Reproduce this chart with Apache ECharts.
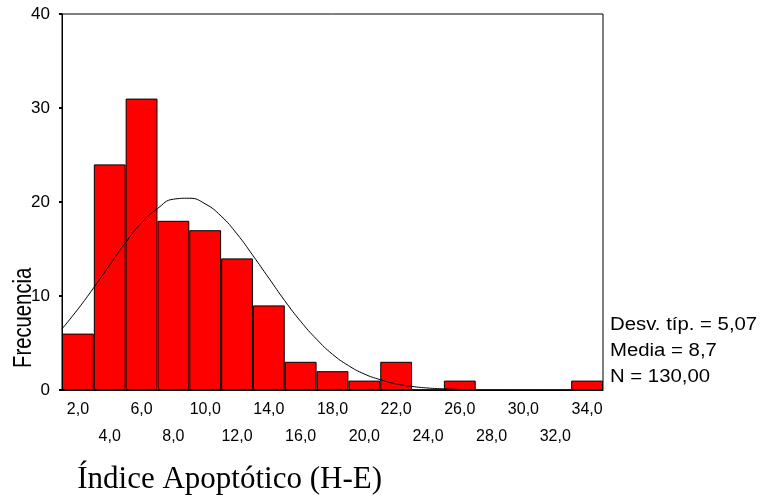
<!DOCTYPE html>
<html><head><meta charset="utf-8">
<script src="https://cdn.jsdelivr.net/npm/echarts@6/dist/echarts.min.js"></script>
<style>html,body{margin:0;padding:0;background:#fff}#c{width:760px;height:502px}</style>
</head><body><div id="c"></div>
<script>
// Histogram bins (centers) and frequencies
var binLabels = ['2,0','4,0','6,0','8,0','10,0','12,0','14,0','16,0','18,0','20,0','22,0','24,0','26,0','28,0','30,0','32,0','34,0'];
var frequencies = [6,24,31,18,17,14,9,3,2,1,3,0,1,0,0,0,1];
// Fitted normal curve
var curveX = [1,2,3,4,5,6,7,8,9,10,11,12,13,14,15,16,17,18,19,20,21,22,23,24,25,26];
var curveY = [6.5,8.6,10.9,13.3,15.7,17.8,19.3,20.3,20.4,19.8,18.5,16.6,14.3,11.9,9.5,7.3,5.4,3.8,2.6,1.7,1.1,0.65,0.38,0.21,0.12,0.06];
var yTicks = [0,10,20,30,40];
var statsText = ['Desv. típ. = 5,07','Media = 8,7','N = 130,00'];
var yName = 'Frecuencia';
var xName = 'Índice Apoptótico (H-E)';

var chart = echarts.init(document.getElementById('c'), null, {renderer:'canvas'});
var font = 'Liberation Sans, Arial, sans-serif';
chart.setOption({
  animation:false,
  backgroundColor:'#fff',
  grid:{left:62, right:157, top:14, bottom:112, show:true, borderColor:'#000', borderWidth:1, backgroundColor:'transparent'},
  xAxis:[{
    type:'category', data:binLabels, boundaryGap:true,
    axisLine:{lineStyle:{color:'#000', width:1}},
    axisTick:{alignWithLabel:true, length:3, lineStyle:{color:'#000', width:1.5}},
    axisLabel:{interval:0, color:'#000', fontFamily:font, fontSize:16, lineHeight:27, margin:6,
      formatter:function(v,i){return i%2===0 ? v : '\n'+v;}},
    splitLine:{show:false}
  },{
    type:'value', min:1, max:35, show:false
  }],
  yAxis:{
    type:'value', min:0, max:40, interval:10,
    axisLine:{show:true, lineStyle:{color:'#000', width:1}},
    axisTick:{show:true, length:3, lineStyle:{color:'#000', width:2}},
    axisLabel:{color:'#000', fontFamily:font, fontSize:17, margin:12,
      formatter:function(v){return yTicks.indexOf(v)>=0 ? String(v) : '';}},
    splitLine:{show:false}
  },
  series:[{
    type:'bar', xAxisIndex:0, data:frequencies, barCategoryGap:'0%',
    itemStyle:{color:'#ff0000', borderColor:'#000', borderWidth:1}
  },{
    type:'line', xAxisIndex:1, data:curveX.map(function(x,i){return [x,curveY[i]];}),
    showSymbol:false, smooth:true, lineStyle:{color:'#000', width:1}
  }],
  graphic:[
    {type:'text', x:610, y:325, scaleX:1.13, style:{text:statsText[0], font:'18px '+font, fill:'#000', textVerticalAlign:'middle'}},
    {type:'text', x:610, y:351, scaleX:1.13, style:{text:statsText[1], font:'18px '+font, fill:'#000', textVerticalAlign:'middle'}},
    {type:'text', x:610, y:377, scaleX:1.13, style:{text:statsText[2], font:'18px '+font, fill:'#000', textVerticalAlign:'middle'}},
    {type:'text', x:24, y:368, rotation:Math.PI/2, scaleX:0.78, style:{text:yName, font:'26px '+font, fill:'#000', textVerticalAlign:'middle'}},
    {type:'text', x:382, y:480, style:{text:xName, font:'31px Liberation Serif, Times New Roman, serif', fill:'#000', textAlign:'right', textVerticalAlign:'middle'}}
  ]
});
</script></body></html>
